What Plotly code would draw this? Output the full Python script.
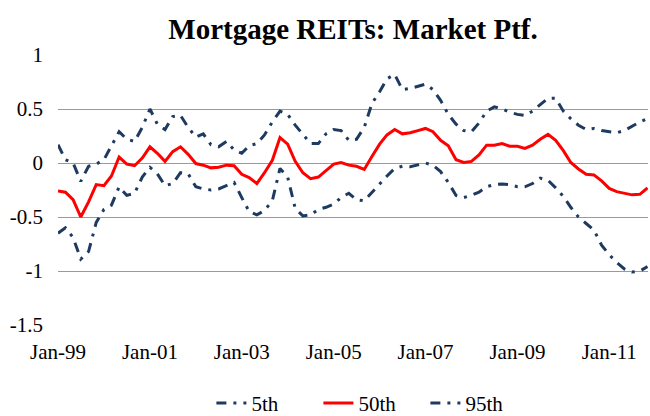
import pandas as pd
import plotly.graph_objects as go

dates = pd.date_range("1999-01-01", periods=78, freq="2MS")

p5 = [-0.65, -0.6, -0.69, -0.89, -0.82, -0.55, -0.43, -0.39, -0.22, -0.3,
      -0.28, -0.13, -0.04, -0.1, -0.21, -0.19, -0.09, -0.1, -0.22, -0.24,
      -0.25, -0.24, -0.21, -0.18, -0.32, -0.45, -0.48, -0.44, -0.35, -0.05,
      -0.13, -0.42, -0.49, -0.48, -0.43, -0.41, -0.38, -0.32, -0.28, -0.34,
      -0.35, -0.27, -0.19, -0.12, -0.05, -0.03, -0.035, -0.02, 0.0, -0.02,
      -0.08, -0.18, -0.3, -0.32, -0.3, -0.27, -0.22, -0.2, -0.195, -0.2,
      -0.22, -0.22, -0.19, -0.14, -0.16, -0.23, -0.31, -0.41, -0.5, -0.56,
      -0.62, -0.76, -0.85, -0.92, -0.98, -1.01, -1.0, -0.96]

p50 = [-0.26, -0.27, -0.34, -0.50, -0.36, -0.20, -0.21, -0.12, 0.055, -0.01,
       -0.025, 0.045, 0.15, 0.09, 0.015, 0.105, 0.15, 0.08, -0.005, -0.02,
       -0.045, -0.04, -0.02, -0.025, -0.105, -0.135, -0.19, -0.09, 0.025, 0.235,
       0.175, 0.015, -0.09, -0.145, -0.13, -0.07, -0.01, 0.005, -0.02, -0.03,
       -0.06, 0.06, 0.175, 0.26, 0.31, 0.27, 0.28, 0.30, 0.32, 0.29,
       0.21, 0.16, 0.03, 0.005, 0.015, 0.075, 0.165, 0.165, 0.18, 0.155,
       0.155, 0.135, 0.165, 0.22, 0.265, 0.21, 0.115, 0.005, -0.055, -0.105,
       -0.11, -0.165, -0.235, -0.265, -0.28, -0.295, -0.29, -0.23]

p95 = [0.17, 0.03, 0.0, -0.17, -0.03, -0.01, 0.03, 0.16, 0.29, 0.22,
       0.2, 0.33, 0.5, 0.36, 0.31, 0.43, 0.44, 0.33, 0.24, 0.27,
       0.17, 0.15, 0.2, 0.12, 0.09, 0.16, 0.18, 0.26, 0.38, 0.48,
       0.45, 0.35, 0.26, 0.18, 0.18, 0.27, 0.31, 0.3, 0.21, 0.22,
       0.33, 0.55, 0.66, 0.78, 0.82, 0.68, 0.69, 0.71, 0.73, 0.68,
       0.58, 0.45, 0.36, 0.3, 0.29, 0.37, 0.48, 0.52, 0.5, 0.47,
       0.45, 0.44, 0.48, 0.54, 0.6, 0.6, 0.48, 0.41, 0.35, 0.31,
       0.32, 0.3, 0.29, 0.28, 0.3, 0.34, 0.38, 0.41]

tick_dates = ["1999-01-01", "2001-01-01", "2003-01-01", "2005-01-01",
              "2007-01-01", "2009-01-01", "2011-01-01"]
tick_labels = ["Jan-99", "Jan-01", "Jan-03", "Jan-05", "Jan-07", "Jan-09", "Jan-11"]
y_ticks = [1, 0.5, 0, -0.5, -1, -1.5]
y_labels = ["1", "0.5", "0", "-0.5", "-1", "-1.5"]

NAVY = "#1F3A60"
DASH = "10px,7px,3px,7px"
FONT = "Liberation Serif"

fig = go.Figure()
fig.add_trace(go.Scatter(x=dates, y=p5, name="5th", mode="lines",
                         line=dict(color=NAVY, width=3, dash=DASH)))
fig.add_trace(go.Scatter(x=dates, y=p50, name="50th", mode="lines",
                         line=dict(color="#FF0000", width=3)))
fig.add_trace(go.Scatter(x=dates, y=p95, name="95th", mode="lines",
                         line=dict(color=NAVY, width=3, dash=DASH)))

fig.update_layout(
    width=650, height=416,
    margin=dict(l=58, r=2, t=55, b=91, autoexpand=False),
    paper_bgcolor="white", plot_bgcolor="white",
    font=dict(family=FONT, size=21, color="black"),
    title=dict(text="<b>Mortgage REITs: Market Ptf.</b>",
               font=dict(family=FONT, size=29, color="black"),
               x=0.5, xref="paper", xanchor="center",
               y=0.93, yref="container", yanchor="middle"),
    showlegend=True,
    legend=dict(orientation="h", x=0.532, xanchor="center", y=-0.29, yanchor="middle",
                font=dict(family=FONT, size=21), itemwidth=30,
                entrywidth=62, entrywidthmode="pixels",
                bgcolor="rgba(0,0,0,0)"),
)
fig.update_xaxes(range=["1999-01-01", "2011-11-05"],
                 tickvals=tick_dates, ticktext=tick_labels,
                 showgrid=False, zeroline=False, showline=False,
                 ticks="", ticklabelstandoff=12)
fig.update_yaxes(range=[-1.5, 1], tickvals=y_ticks, ticktext=y_labels,
                 showgrid=True, gridcolor="#9A9A9A", gridwidth=1.3,
                 zeroline=False, showline=False, ticks="",
                 ticklabelstandoff=14)

fig.write_html("out.html", config={"displayModeBar": False},
               post_script="document.body.style.margin='0px';")
